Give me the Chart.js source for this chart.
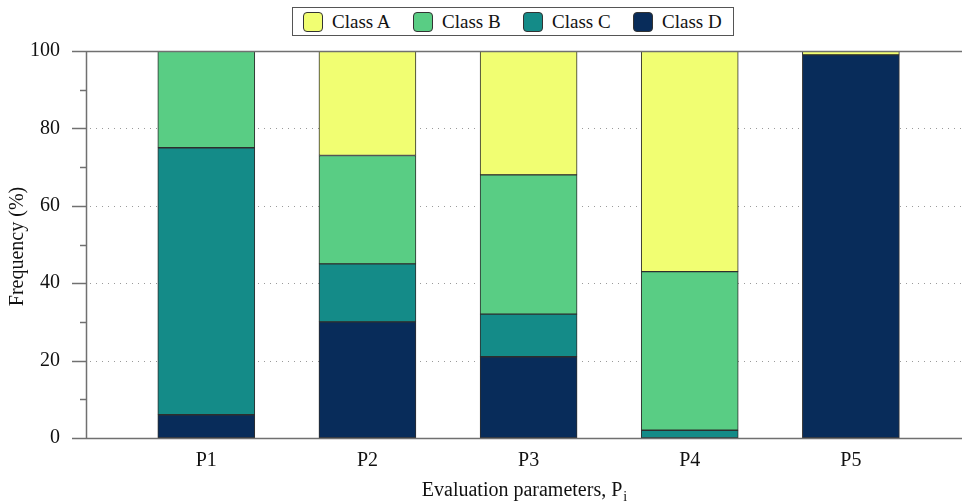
<!DOCTYPE html>
<html>
<head>
<meta charset="utf-8">
<script src="https://cdn.jsdelivr.net/npm/chart.js@4/dist/chart.umd.min.js"></script>
<style>
  body { margin: 0; background: #fff; }
  #wrap { position: relative; width: 962px; height: 503px; }
  #legend {
    position: absolute; left: 292px; top: 7px; width: 440px; height: 27px;
    border: 1px solid #555; background: #fff; display: flex; align-items: center;
    font-family: 'Liberation Serif', 'Times New Roman', serif; font-size: 19px; color: #111;
  }
  .item { width: 110px; display: flex; align-items: center; padding-left: 10px; box-sizing: border-box; }
  .sw { width: 18px; height: 18px; border: 1px solid #333; border-radius: 4px; margin-right: 9px; }
</style>
</head>
<body>
<div id="wrap">
  <canvas id="chart" width="962" height="503"></canvas>
  <div id="legend"></div>
</div>
<script>
const categories = ['P1', 'P2', 'P3', 'P4', 'P5'];
const classA = [0, 27, 32, 57, 1];
const classB = [25, 28, 36, 41, 0];
const classC = [69, 15, 11, 2, 0];
const classD = [6, 30, 21, 0, 99];

const serif = "'Liberation Serif', 'Times New Roman', serif";

// bottom to top stacking order
const series = [
    { label: 'Class D', data: classD, color: '#082c5a' },
    { label: 'Class C', data: classC, color: '#148b88' },
    { label: 'Class B', data: classB, color: '#59cd84' },
    { label: 'Class A', data: classA, color: '#f1fe72' }
];

const datasets = series.map(s => ({
    label: s.label,
    data: s.data.map((v, i) => ({ x: i + 1, y: v === 0 ? null : v })),
    backgroundColor: s.color,
    borderColor: '#2e2e2e',
    borderWidth: 1,
    borderSkipped: false,
    barThickness: 97
}));

// legend box (A..D left to right)
const legend = document.getElementById('legend');
series.slice().reverse().forEach(s => {
    const item = document.createElement('div');
    item.className = 'item';
    item.innerHTML = '<span class="sw" style="background:' + s.color + '"></span>' + s.label;
    legend.appendChild(item);
});

// axis lines, ticks, dotted grid and titles
const axesPlugin = {
    id: 'axesPlugin',
    beforeDatasetsDraw(chart) {
        const ctx = chart.ctx;
        const y = chart.scales.y;
        const area = chart.chartArea;
        ctx.save();
        ctx.strokeStyle = '#9a9a9a';
        ctx.lineWidth = 1;
        ctx.setLineDash([1, 5]);
        for (let v = 20; v < 100; v += 20) {
            const py = Math.round(y.getPixelForValue(v)) + 0.5;
            ctx.beginPath();
            ctx.moveTo(area.left + 4, py);
            ctx.lineTo(chart.width, py);
            ctx.stroke();
        }
        ctx.restore();
    },
    afterDatasetsDraw(chart) {
        const ctx = chart.ctx;
        const y = chart.scales.y;
        const area = chart.chartArea;
        ctx.save();
        ctx.strokeStyle = '#707070';
        ctx.lineWidth = 1.5;
        for (let v = 0; v <= 100; v += 10) {
            const py = Math.round(y.getPixelForValue(v)) + 0.5;
            const len = v % 20 === 0 ? 14 : 6;
            ctx.beginPath();
            ctx.moveTo(area.left - len, py);
            ctx.lineTo(area.left, py);
            ctx.stroke();
        }
        [0, 100].forEach(v => {
            const py = Math.round(y.getPixelForValue(v)) + 0.5;
            ctx.beginPath();
            ctx.moveTo(area.left, py);
            ctx.lineTo(chart.width, py);
            ctx.stroke();
        });
        ctx.beginPath();
        ctx.moveTo(area.left + 0.5, area.top);
        ctx.lineTo(area.left + 0.5, area.bottom);
        ctx.stroke();

        // titles
        ctx.fillStyle = '#111';
        ctx.font = '20px ' + serif;
        ctx.textBaseline = 'middle';
        ctx.textAlign = 'left';
        const main = 'Evaluation parameters, P';
        const w = ctx.measureText(main).width;
        ctx.font = '14px ' + serif;
        const wi = ctx.measureText('i').width;
        const x0 = 524 - (w + wi) / 2;
        ctx.font = '20px ' + serif;
        ctx.fillText(main, x0, 491);
        ctx.font = '14px ' + serif;
        ctx.fillText('i', x0 + w + 1, 497);

        ctx.translate(18, (area.top + area.bottom) / 2 + 2);
        ctx.rotate(-Math.PI / 2);
        ctx.font = '20px ' + serif;
        ctx.textAlign = 'center';
        ctx.fillText('Frequency (%)', 0, 0);
        ctx.restore();
    }
};

new Chart(document.getElementById('chart'), {
    type: 'bar',
    data: { datasets: datasets },
    options: {
        responsive: false,
        animation: false,
        layout: { padding: { top: 51, right: 0, bottom: 0, left: 0 } },
        plugins: { legend: { display: false }, tooltip: { enabled: false } },
        scales: {
            x: {
                type: 'linear',
                stacked: true,
                offset: false,
                min: 0.2535,
                max: 5.671,
                grid: { display: false, offset: false },
                border: { display: false },
                afterFit: (scale) => { scale.height = 65; },
                ticks: {
                    stepSize: 1,
                    autoSkip: false,
                    padding: 3,
                    color: '#111',
                    font: { family: serif, size: 20 },
                    callback: (v) => Number.isInteger(v) && v >= 1 && v <= categories.length ? categories[v - 1] : ''
                }
            },
            y: {
                stacked: true,
                min: 0,
                max: 100,
                grid: { display: false },
                border: { display: false },
                afterFit: (scale) => { scale.width = 86; },
                ticks: {
                    stepSize: 20,
                    padding: 18,
                    color: '#111',
                    font: { family: serif, size: 20 }
                }
            }
        }
    },
    plugins: [axesPlugin]
});
</script>
</body>
</html>
